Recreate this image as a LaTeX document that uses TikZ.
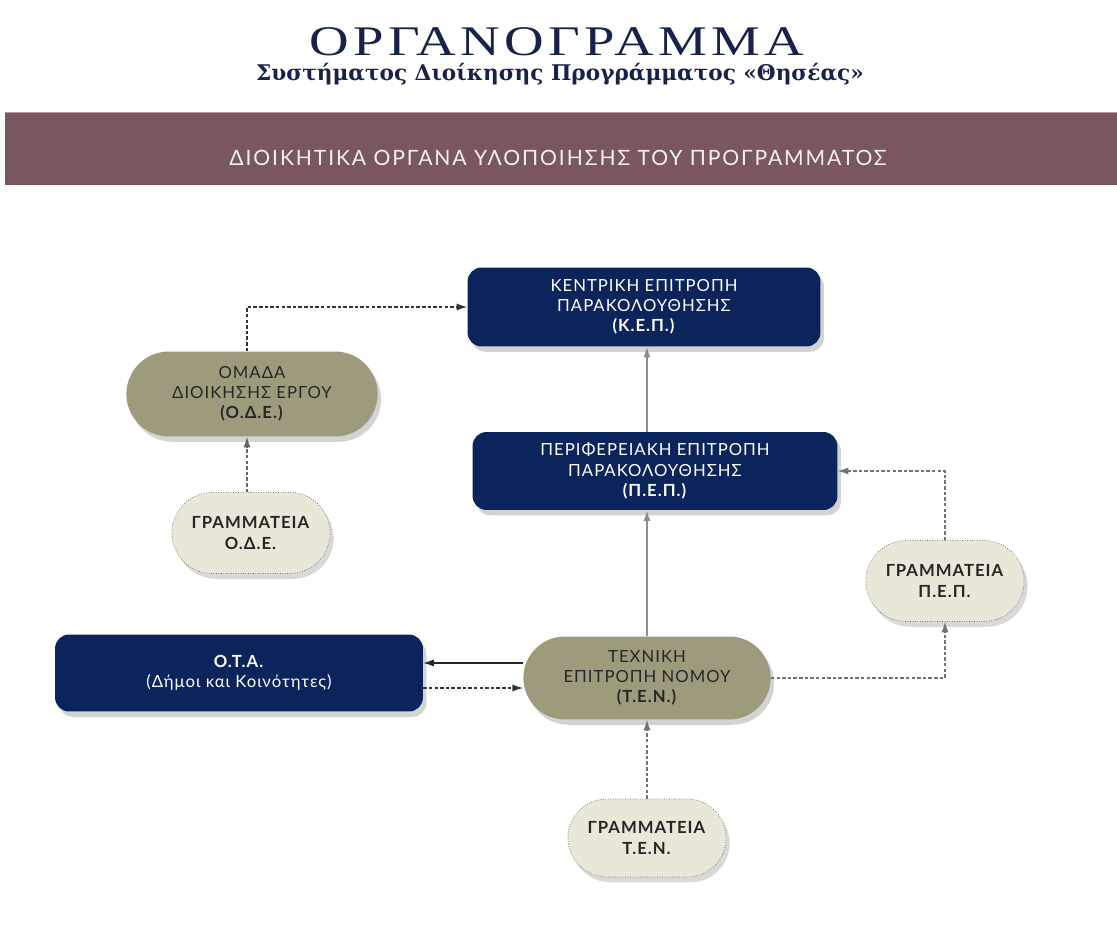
\documentclass[tikz,border=0pt]{standalone}
\usepackage{fontspec}
\usepackage{graphicx}
\setmainfont{Liberation Serif}
\newfontfamily\titlefont{Liberation Serif}[LetterSpace=8]
\newfontfamily\boxfont{Lato}[LetterSpace=6]
\newfontfamily\bandfont{Lato}[LetterSpace=9]
\newfontfamily\subfont{DejaVu Serif}
\usetikzlibrary{arrows.meta,shapes.misc,shadows}

\definecolor{navyblue}{RGB}{12,36,92}
\definecolor{olivebox}{RGB}{158,155,124}
\definecolor{paleclay}{RGB}{233,231,216}
\definecolor{bandred}{RGB}{122,87,95}
\definecolor{titleblue}{RGB}{22,34,74}

\tikzset{
  organ/.style={rectangle, rounded corners=8pt, fill=navyblue, text=white,
    align=center, font=\boxfont\fontsize{9.5}{11.5}\selectfont,
    drop shadow={opacity=0.35, shadow xshift=2pt, shadow yshift=-3pt}},
  group/.style={rounded rectangle, fill=olivebox, text=black!85,
    align=center, font=\boxfont\fontsize{9.5}{11.5}\selectfont,
    drop shadow={opacity=0.35, shadow xshift=2pt, shadow yshift=-3pt}},
  office/.style={rounded rectangle, fill=paleclay, text=black!85,
    draw=black!60, densely dotted, align=center,
    font=\boxfont\fontsize{9.5}{11.5}\selectfont,
    minimum width=3.4cm, minimum height=1.62cm,
    drop shadow={opacity=0.3, shadow xshift=2pt, shadow yshift=-3pt}},
  link/.style={line width=0.6pt, -{Latex[length=6pt,width=4pt]}},
  dashlink/.style={link, dash pattern=on 2pt off 1.2pt},
}

\begin{document}
\begin{tikzpicture}[x=0.02cm, y=-0.02cm]
\useasboundingbox (0,0) rectangle (1117,926);
% Header
\node[font=\titlefont\fontsize{24}{28}\selectfont, text=titleblue] (title) at (557,42)
  {\scalebox{1.3}[1]{ΟΡΓΑΝΟΓΡΑΜΜΑ}};
\node[font=\subfont\bfseries\fontsize{12.3}{14}\selectfont, text=titleblue] (subtitle) at (560,74)
  {Συστήματος Διοίκησης Προγράμματος «Θησέας»};
\fill[bandred] (5,112) rectangle (1117,185);
\draw[bandred!60!white, line width=0.8pt] (5,112.5) -- (1117,112.5);
\node[font=\bandfont\fontsize{12}{14}\selectfont, text=white!92!bandred] (band) at (558,158)
  {ΔΙΟΙΚΗΤΙΚΑ ΟΡΓΑΝΑ ΥΛΟΠΟΙΗΣΗΣ ΤΟΥ ΠΡΟΓΡΑΜΜΑΤΟΣ};

% Bodies
\node[organ, minimum width=7.06cm, minimum height=1.58cm] (kep) at (644,307)
  {ΚΕΝΤΡΙΚΗ ΕΠΙΤΡΟΠΗ\\ΠΑΡΑΚΟΛΟΥΘΗΣΗΣ\\\textbf{(Κ.Ε.Π.)}};
\node[organ, minimum width=7.3cm, minimum height=1.56cm] (pep) at (655,471)
  {ΠΕΡΙΦΕΡΕΙΑΚΗ ΕΠΙΤΡΟΠΗ\\ΠΑΡΑΚΟΛΟΥΘΗΣΗΣ\\\textbf{(Π.Ε.Π.)}};
\node[organ, minimum width=7.36cm, minimum height=1.54cm] (ota) at (239,673)
  {\textbf{Ο.Τ.Α.}\\(Δήμοι και Κοινότητες)};
\node[group, minimum width=5.26cm, minimum height=1.7cm] (ode) at (252,394)
  {ΟΜΑΔΑ\\ΔΙΟΙΚΗΣΗΣ ΕΡΓΟΥ\\\textbf{(Ο.Δ.Ε.)}};
\node[group, minimum width=5.18cm, minimum height=1.66cm] (ten) at (647,678)
  {ΤΕΧΝΙΚΗ\\ΕΠΙΤΡΟΠΗ ΝΟΜΟΥ\\\textbf{(Τ.Ε.Ν.)}};

% Secretariats
\node[office] (grode) at (251,533) {\textbf{ΓΡΑΜΜΑΤΕΙΑ}\\\textbf{Ο.Δ.Ε.}};
\node[office] (grpep) at (945,581) {\textbf{ΓΡΑΜΜΑΤΕΙΑ}\\\textbf{Π.Ε.Π.}};
\node[office, minimum height=1.56cm] (grten) at (647,838) {\textbf{ΓΡΑΜΜΑΤΕΙΑ}\\\textbf{Τ.Ε.Ν.}};

% Connectors
\draw[dashlink, black!80] (ode.north -| 247,0) |- (kep.west);
\draw[dashlink, black!60] (grode.north -| 247,0) -- (ode.south -| 247,0);
\draw[link, black!45, line width=0.9pt] (ten.north |- pep.north) -- (ten.north |- kep.south);
\draw[link, black!45, line width=0.9pt] (ten.north) -- (ten.north |- pep.south);
\draw[dashlink, black!55] (grpep.north) |- (pep.east);
\draw[dashlink, black!55] (ten.east) -| (grpep.south);
\draw[dashlink, black!55] (grten.north) -- (ten.south);
\draw[link, black!85] (ten.west |- 0,663) -- (ota.east |- 0,663);
\draw[dashlink, black!80] (ota.east |- 0,688) -- (ten.west |- 0,688);
\end{tikzpicture}
\end{document}
